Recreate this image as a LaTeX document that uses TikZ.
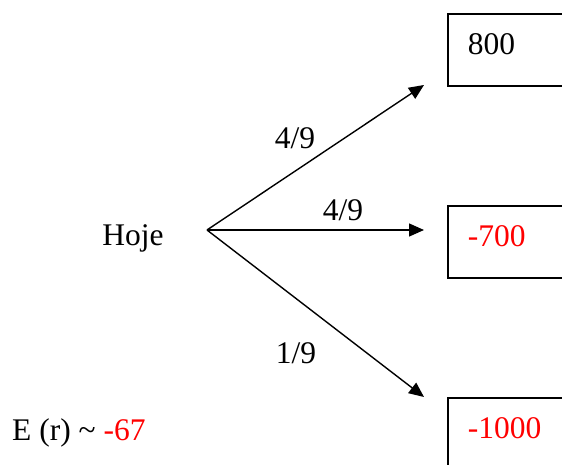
\documentclass[tikz,border=0pt]{standalone}
\usepackage{fontspec}
\setmainfont{Liberation Serif}
\usetikzlibrary{arrows.meta}
\tikzstyle{valuebox} = [rectangle, draw=black, line width=1.8pt, anchor=north west, minimum height=72pt, text width=110pt, inner xsep=20pt, align=left, text height=22pt, text depth=12pt]
\tikzstyle{arrow} = [line width=1.4pt, -{Triangle[length=15pt,width=13pt]}]
\tikzset{
  prob/.style={anchor=base}
}

\begin{document}
\begin{tikzpicture}[x=1pt, y=-1pt, font=\fontsize{31.5}{37}\selectfont]
    \useasboundingbox (0,0) rectangle (562,465);
    \clip (0,0) rectangle (562,465);
    \node (b1)[valuebox] at (447,13) {800};
    \node (b2)[valuebox, text=red] at (447,205) {-700};
    \node (b3)[valuebox, text=red] at (447,397) {-1000};
    \node (hoje)[anchor=base] at (133,245) {Hoje};
    \node (er)[anchor=base west, inner sep=0pt] at (12,440) {E (r) \textasciitilde{} \textcolor{red}{-67}};
    \coordinate (o) at (207,230);
    \coordinate (t1) at (424,85);
    \coordinate (t2) at (424,230);
    \coordinate (t3) at (424,397);
    \draw[arrow] (o)--(t1);
    \draw[arrow] (o)--(t2);
    \draw[arrow] (o)--(t3);
    \node (p1)[prob] at (295,149) {4/9};
    \node (p2)[prob] at (343,221) {4/9};
    \node (p3)[prob] at (296,363) {1/9};
  \end{tikzpicture}
\end{document}
